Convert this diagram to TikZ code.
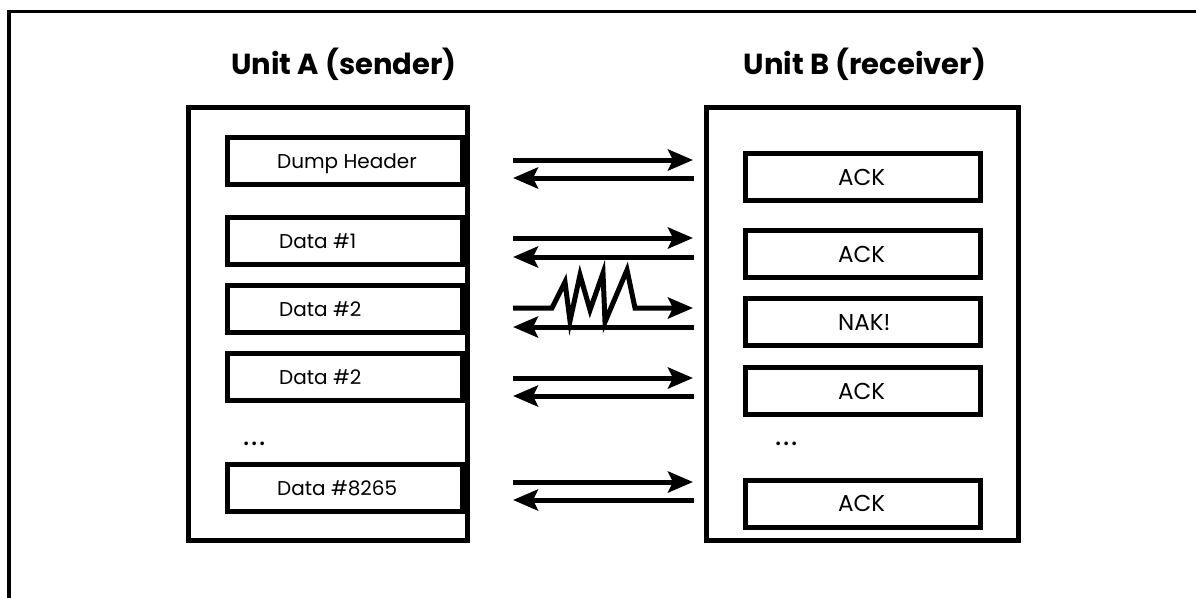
\documentclass[tikz,border=0pt]{standalone}
\usepackage{fontspec}
\setmainfont{Poppins}
\usetikzlibrary{arrows.meta}

\begin{document}
\begin{tikzpicture}[x=1pt,y=-1pt,
  frame/.style={line width=3.5pt},
  unitbox/.style={draw, line width=5pt, rectangle, inner sep=0pt},
  msgbox/.style={draw, line width=5pt, rectangle, inner sep=0pt,
                 minimum width=235pt, minimum height=47pt},
  sendtext/.style={anchor=base west, inner sep=0pt, font=\fontsize{20}{24}\selectfont},
  recvtext/.style={anchor=base west, inner sep=0pt, font=\fontsize{23}{27}\selectfont},
  title/.style={font=\fontsize{29}{33}\selectfont\bfseries, inner sep=0pt},
  dots/.style={anchor=base west, inner sep=0pt, font=\fontsize{30}{34}\selectfont},
  arr/.style={line width=5pt, line join=miter,
              -{Stealth[length=25pt, width=21pt, inset=5pt]}}
]
\useasboundingbox (0,0) rectangle (1196,597);

% outer frame (runs off the right and bottom edges)
\draw[frame] (9,620) -- (9,11.5) -- (1220,11.5);

% titles
\node[title] (tA) at (344,64) {Unit A (sender)};
\node[title] (tB) at (865,64) {Unit B (receiver)};

% unit boxes
\node[unitbox, minimum width=278.5pt, minimum height=433.5pt] (A) at (327.75,323.75) {};
\node[unitbox, minimum width=312pt, minimum height=433pt] (B) at (862.5,324) {};

% sender messages
\node[msgbox] (L1) at (345,161.25) {};
\node[msgbox] (L2) at (345,241) {};
\node[msgbox] (L3) at (345,309) {};
\node[msgbox] (L4) at (345,377) {};
\node[msgbox] (L5) at (345,488) {};
\node[sendtext] at (277,168.25) {Dump Header};
\node[sendtext] at (279,248) {Data \#1};
\node[sendtext] at (279,316) {Data \#2};
\node[sendtext] at (279,384) {Data \#2};
\node[sendtext] at (277,495) {Data \#8265};
\node[dots] (dA) at (243,445) {.\hspace{2pt}.\hspace{2pt}.};

% receiver replies
\node[msgbox] (R1) at (863,177) {};
\node[msgbox] (R2) at (863,254) {};
\node[msgbox] (R3) at (863,322) {};
\node[msgbox] (R4) at (863,391) {};
\node[msgbox] (R5) at (863,503.5) {};
\node[recvtext] at (838,185) {ACK};
\node[recvtext] at (838,262) {ACK};
\node[recvtext] at (838,330) {NAK!};
\node[recvtext] at (838,399) {ACK};
\node[recvtext] at (838,511.5) {ACK};
\node[dots] (dB) at (775,445) {.\hspace{2pt}.\hspace{2pt}.};

% arrow end points
\coordinate (s1) at (513,160);   \coordinate (e1) at (693,160);
\coordinate (b1) at (694,178);   \coordinate (f1) at (513,178);
\coordinate (s2) at (513,238);   \coordinate (e2) at (693,238);
\coordinate (b2) at (694,257);   \coordinate (f2) at (513,257);
\coordinate (s3) at (513,308);   \coordinate (e3) at (693,308);
\coordinate (b3) at (694,327);   \coordinate (f3) at (513,327);
\coordinate (s4) at (513,378);   \coordinate (e4) at (693,378);
\coordinate (b4) at (694,396);   \coordinate (f4) at (513,396);
\coordinate (s5) at (513,482);   \coordinate (e5) at (693,482);
\coordinate (b5) at (694,500);   \coordinate (f5) at (513,500);

% exchanges
\draw[arr] (s1) -- (e1);  \draw[arr] (b1) -- (f1);
\draw[arr] (s2) -- (e2);  \draw[arr] (b2) -- (f2);
\draw[arr] (s3) -- (552,308) -- (565,282) -- (570,321) -- (580,275)
           -- (590,310) -- (603,273) -- (605,322) -- (627,270)
           -- (635,308) -- (e3);
\draw[arr] (b3) -- (f3);
\draw[arr] (s4) -- (e4);  \draw[arr] (b4) -- (f4);
\draw[arr] (s5) -- (e5);  \draw[arr] (b5) -- (f5);
\end{tikzpicture}
\end{document}
